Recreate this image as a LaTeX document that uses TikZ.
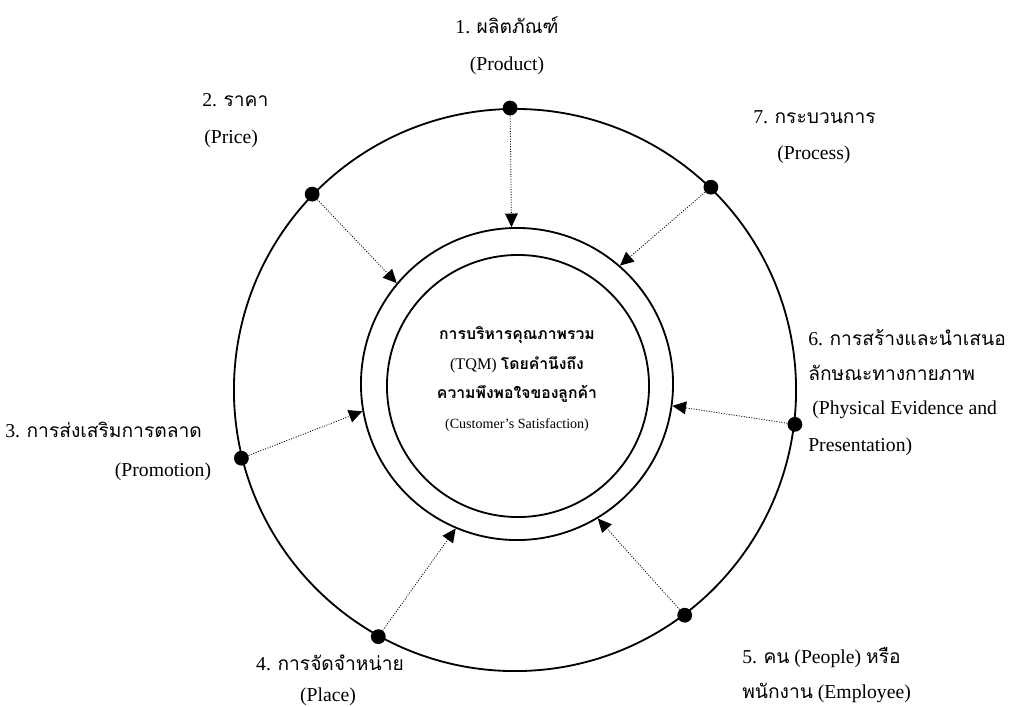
\documentclass[tikz,border=0pt]{standalone}
\usepackage{fontspec}
\setmainfont{Liberation Serif}
\newfontfamily\thaifont[Script=Thai,Scale=0.975]{Loma}
\usetikzlibrary{arrows.meta,positioning}
\newcommand{\tha}[1]{{\thaifont #1}}

\begin{document}
\begin{tikzpicture}[
    x=0.025cm, y=-0.025cm,
    ring/.style={circle, draw, line width=1.3pt, inner sep=0pt},
    spot/.style={circle, fill, inner sep=0pt, minimum size=0.37cm},
    link/.style={-{Triangle[length=3.4mm, width=3.2mm]}, line width=0.6pt,
                 dash pattern=on 0.7pt off 1.1pt},
    lab/.style={font=\fontsize{14}{16}\selectfont, inner sep=0pt},
    core/.style={font=\fontsize{11.5}{21.3}\selectfont, align=center, inner sep=0pt}
]
\useasboundingbox (0,0) rectangle (1027,706);

% rings
\node[ring, minimum size=14.05cm] (outer) at (515,390) {};
\node[ring, minimum size=7.8cm]   (mid)   at (517,384) {};
\node[ring, minimum size=6.55cm]  (inner) at (518,386) {};

% centre text
\node[core] (tqm) at (517,379) {{\thaifont\bfseries การบริหารคุณภาพรวม}\\
  (TQM) {\thaifont\bfseries โดยคำนึงถึง}\\
  {\thaifont\bfseries ความพึงพอใจของลูกค้า}\\
  {\fontsize{10}{12}\selectfont (Customer's Satisfaction)}};

% points on the outer ring
\node[spot] (p1) at (outer.91)  {};
\node[spot] (p2) at (outer.136) {};
\node[spot] (p3) at (outer.194) {};
\node[spot] (p4) at (outer.241) {};
\node[spot] (p5) at (outer.307) {};
\node[spot] (p6) at (outer.-7)  {};
\node[spot] (p7) at (outer.46)  {};

\draw[link] (p1) -- (mid.92);
\draw[link] (p2) -- (mid.140);
\draw[link] (p3) -- (mid.190);
\draw[link] (p4) -- (mid.247);
\draw[link] (p5) -- (mid.301);
\draw[link] (p6) -- (mid.-8);
\draw[link] (p7) -- (mid.49);

% labels
\node[lab] (n1) at (507,25) {1. \tha{ผลิตภัณฑ์}};
\node[lab] (e1) at (507,66) {(Product)};
\node[lab, anchor=west] (n2) at (202,100) {2. \tha{ราคา}};
\node[lab, anchor=west] (e2) at (204,139) {(Price)};
\node[lab, anchor=west] (n3) at (5,430) {3. \tha{การส่งเสริมการตลาด}};
\node[lab] (e3) at (163,472) {(Promotion)};
\node[lab] (n4) at (330,663) {4. \tha{การจัดจำหน่าย}};
\node[lab] (e4) at (328,697) {(Place)};
\node[lab, anchor=west] (n5)  at (742,658) {5. \tha{คน} (People) \tha{หรือ}};
\node[lab, anchor=west] (n5b) at (742,693) {\tha{พนักงาน} (Employee)};
\node[lab, anchor=west] (n6)  at (808,338) {6. \tha{การสร้างและนำเสนอ}};
\node[lab, anchor=west] (n6b) at (808,373) {\tha{ลักษณะทางกายภาพ}};
\node[lab, anchor=west] (e6)  at (812,410) {(Physical Evidence and};
\node[lab, anchor=west] (e6b) at (808,447) {Presentation)};
\node[lab, anchor=west] (n7) at (753,117) {7. \tha{กระบวนการ}};
\node[lab, anchor=west] (e7) at (777,155) {(Process)};
\end{tikzpicture}
\end{document}
